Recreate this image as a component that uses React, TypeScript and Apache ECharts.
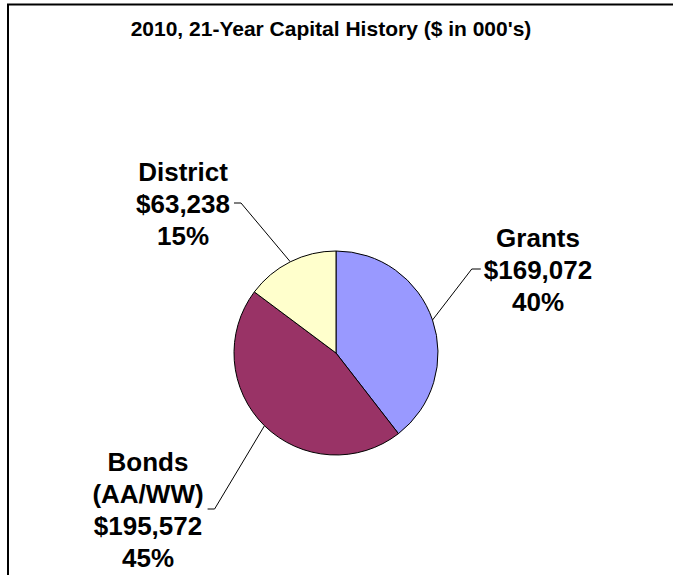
import React, { useEffect, useRef } from "react";
import * as echarts from "echarts";

const titleText = "2010, 21-Year Capital History ($ in 000's)";
const categories = ["Grants", "Bonds\n(AA/WW)", "District"];
const values = [169072, 195572, 63238];
const percentLabels = ["40%", "45%", "15%"];
const colors = ["#9999FF", "#993366", "#FFFFCC"];

// label block centres (layout only)
const labelCenters = [
  [538, 270],
  [148, 510],
  [183, 204],
];

export default function App() {
  const ref = useRef<HTMLDivElement>(null);
  useEffect(() => {
    if (!ref.current) return;
    const chart = echarts.init(ref.current, null, { renderer: "svg" });
    const font = "Liberation Sans, Arial, sans-serif";
    chart.setOption({
      animation: false,
      backgroundColor: "#ffffff",
      graphic: [
        {
          type: "rect",
          shape: { x: 8, y: 4.5, width: 700, height: 620 },
          style: { fill: "none", stroke: "#000", lineWidth: 2 },
          silent: true,
        },
        {
          type: "text",
          x: 331,
          y: 28,
          style: {
            text: titleText,
            align: "center",
            verticalAlign: "middle",
            fontFamily: font,
            fontWeight: "bold",
            fontSize: 21,
            fill: "#000",
          },
        },
      ],
      series: [
        {
          type: "pie",
          center: [336, 353],
          radius: [0, 102],
          startAngle: 90,
          clockwise: true,
          avoidLabelOverlap: false,
          itemStyle: { borderColor: "#000", borderWidth: 1 },
          label: {
            show: true,
            position: "outside",
            color: "#000",
            fontFamily: font,
            fontWeight: "bold",
            fontSize: 26,
            lineHeight: 32,
            formatter: (p: any) =>
              `${p.name}\n$${Number(p.value).toLocaleString("en-US")}\n${percentLabels[p.dataIndex]}`,
          },
          labelLine: {
            show: true,
            length: 20,
            length2: 10,
            lineStyle: { color: "#000", width: 1 },
          },
          labelLayout: (params: any) => {
            const i = params.dataIndex;
            const [cx, cy] = labelCenters[i];
            const w = params.labelRect.width;
            const p0 = params.labelLinePoints ? params.labelLinePoints[0] : [cx, cy];
            const onRight = cx > 336;
            const lineY = cy - 1;
            const endX = onRight ? cx - w / 2 - 3 : cx + w / 2 + 4;
            const bendX = onRight ? endX - 9 : endX + 7;
            return {
              x: cx,
              y: cy,
              align: "center",
              verticalAlign: "middle",
              labelLinePoints: [p0, [bendX, lineY], [endX, lineY]],
            };
          },
          data: categories.map((name, i) => ({
            name,
            value: values[i],
            itemStyle: { color: colors[i] },
          })),
        },
      ],
    });
    return () => chart.dispose();
  }, []);
  return (
    <div
      ref={ref}
      style={{ position: "absolute", left: 0, top: 0, width: 673, height: 575 }}
    />
  );
}
